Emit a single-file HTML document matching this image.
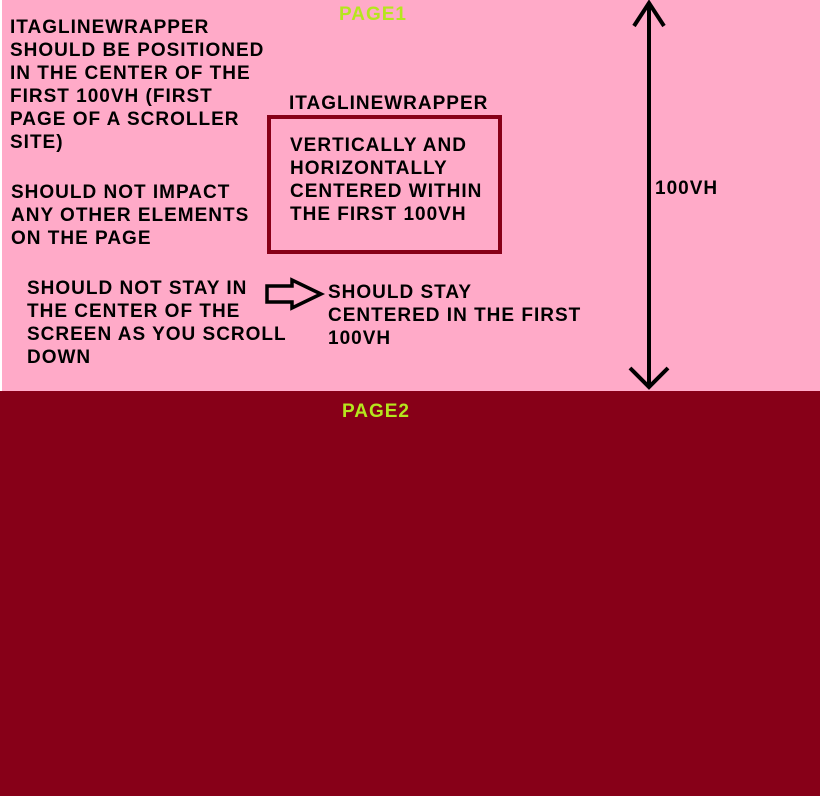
<!DOCTYPE html>
<html><head><style>
html,body{margin:0;padding:0;width:820px;height:796px;overflow:hidden;background:#870018;}
#w{position:absolute;left:0;top:0;width:2px;height:391px;background:#fff;}
#p1{position:absolute;left:2px;top:0;width:818px;height:391px;background:#ffaac8;}
.t{position:absolute;font-family:"Liberation Sans",sans-serif;font-weight:bold;font-size:19px;line-height:23px;letter-spacing:1px;color:#000;white-space:pre;}
.g{color:#b5e61d;}
</style></head><body>
<div id="w"></div>
<div id="p1"></div>
<div class="t g" style="left:339px;top:3px">PAGE1</div>
<div class="t" style="left:10px;top:16px">ITAGLINEWRAPPER
SHOULD BE POSITIONED
IN THE CENTER OF THE
FIRST 100VH (FIRST
PAGE OF A SCROLLER
SITE)</div>
<div class="t" style="left:11px;top:181px">SHOULD NOT IMPACT
ANY OTHER ELEMENTS
ON THE PAGE</div>
<div class="t" style="left:289px;top:92px">ITAGLINEWRAPPER</div>
<div style="position:absolute;left:267px;top:115px;width:227px;height:131px;border:4px solid #870018;"></div>
<div class="t" style="left:290px;top:134px">VERTICALLY AND
HORIZONTALLY
CENTERED WITHIN
THE FIRST 100VH</div>
<div class="t" style="left:27px;top:277px">SHOULD NOT STAY IN
THE CENTER OF THE
SCREEN AS YOU SCROLL
DOWN</div>
<div class="t" style="left:328px;top:281px">SHOULD STAY
CENTERED IN THE FIRST
100VH</div>
<div class="t" style="left:655px;top:177px">100VH</div>
<div class="t g" style="left:342px;top:400px">PAGE2</div>
<svg width="820" height="796" style="position:absolute;left:0;top:0" fill="none" stroke="#000" stroke-width="4">
<line x1="649" y1="3" x2="649" y2="388"/>
<polyline points="634,26 649,3 664,26"/>
<polyline points="630,368 649,387 668,368"/>
<polygon stroke-width="3.5" points="267,286 292,286 292,280 321,294 292,308 292,302 267,302"/>
</svg>
</body></html>
